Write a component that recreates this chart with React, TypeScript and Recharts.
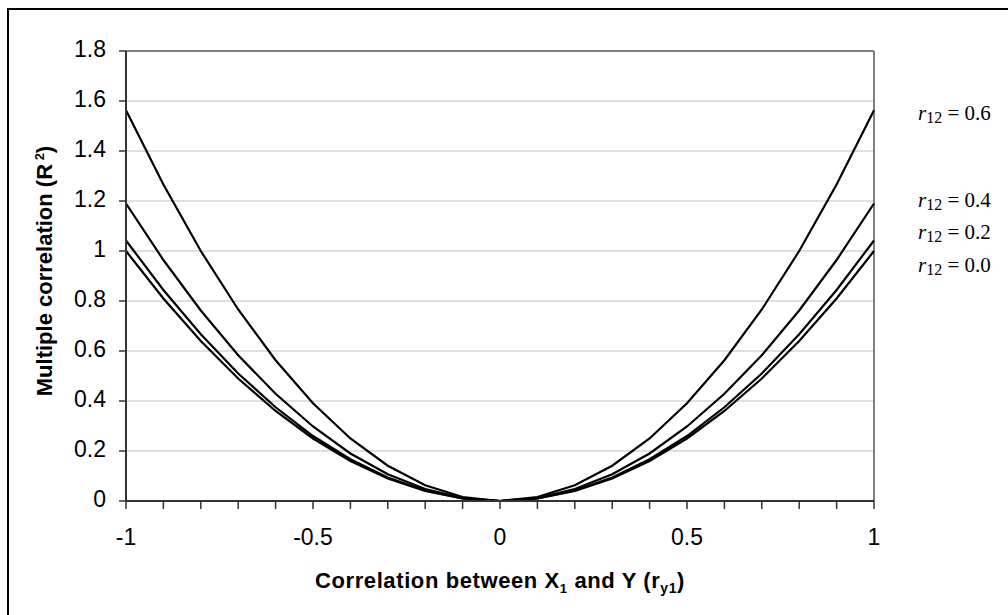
import React from 'react';
import { LineChart, Line, XAxis, YAxis, CartesianGrid, ReferenceLine, Label } from 'recharts';

const X_VALUES = [-1, -0.9, -0.8, -0.7, -0.6, -0.5, -0.4, -0.3, -0.2, -0.1, 0, 0.1, 0.2, 0.3, 0.4, 0.5, 0.6, 0.7, 0.8, 0.9, 1];
const R12_00 = [1, 0.81, 0.64, 0.49, 0.36, 0.25, 0.16, 0.09, 0.04, 0.01, 0, 0.01, 0.04, 0.09, 0.16, 0.25, 0.36, 0.49, 0.64, 0.81, 1];
const R12_02 = [1.042, 0.844, 0.667, 0.51, 0.375, 0.26, 0.167, 0.094, 0.042, 0.01, 0, 0.01, 0.042, 0.094, 0.167, 0.26, 0.375, 0.51, 0.667, 0.844, 1.042];
const R12_04 = [1.19, 0.964, 0.762, 0.583, 0.429, 0.298, 0.19, 0.107, 0.048, 0.012, 0, 0.012, 0.048, 0.107, 0.19, 0.298, 0.429, 0.583, 0.762, 0.964, 1.19];
const R12_06 = [1.563, 1.266, 1.0, 0.766, 0.563, 0.391, 0.25, 0.141, 0.063, 0.016, 0, 0.016, 0.063, 0.141, 0.25, 0.391, 0.563, 0.766, 1.0, 1.266, 1.563];
const X_TICK_LABELS = [-1, -0.5, 0, 0.5, 1];
const Y_TICKS = [0, 0.2, 0.4, 0.6, 0.8, 1, 1.2, 1.4, 1.6, 1.8];
const SERIES_LABELS = ['0.6', '0.4', '0.2', '0.0'];
const SERIES_KEYS = ['r06', 'r04', 'r02', 'r00'];

const data = X_VALUES.map((x, i) => ({
  x,
  r00: R12_00[i],
  r02: R12_02[i],
  r04: R12_04[i],
  r06: R12_06[i],
}));

const SANS = "Arial, 'Liberation Sans', sans-serif";
const SERIF = "'Times New Roman', 'Liberation Serif', serif";

const XTick = (props: any) => {
  const { x, y, payload } = props;
  const v = payload.value;
  const show = X_TICK_LABELS.some((t) => Math.abs(t - v) < 1e-9);
  if (!show) return <g />;
  return (
    <text x={x} y={y + 34} textAnchor="middle" fontFamily={SANS} fontSize={23} fill="#000">
      {String(v)}
    </text>
  );
};

const YTick = (props: any) => {
  const { x, y, payload } = props;
  return (
    <text x={x} y={y + 6} textAnchor="end" fontFamily={SANS} fontSize={23} fill="#000">
      {String(payload.value)}
    </text>
  );
};

const XTitle = () => (
  <text x={500} y={588} textAnchor="middle" fontFamily={SANS} fontSize={22} fontWeight="bold" letterSpacing={0.6} fill="#000">
    Correlation between X
    <tspan fontSize={13} dy={5}>1</tspan>
    <tspan dy={-5}> and Y (r</tspan>
    <tspan fontSize={14} dy={5}>y1</tspan>
    <tspan dy={-5}>)</tspan>
  </text>
);

const YTitle = () => (
  <text transform="translate(52,271) rotate(-90)" textAnchor="middle" fontFamily={SANS} fontSize={22} fontWeight="bold" fill="#000">
    Multiple correlation (R
    <tspan fontSize={13} dy={-8}> 2</tspan>
    <tspan dy={8}>)</tspan>
  </text>
);

const LABEL_BASELINES = [120, 207, 239, 272];

export default function App() {
  return (
    <div style={{ position: 'absolute', left: 0, top: 0, width: 1008, height: 615, background: '#fff' }}>
      <div
        style={{
          position: 'absolute',
          left: 7,
          top: 8,
          width: 1001,
          height: 607,
          borderLeft: '2px solid #000',
          borderTop: '2px solid #000',
          boxSizing: 'border-box',
        }}
      />
      <div style={{ position: 'absolute', left: 0, top: 0 }}>
        <LineChart width={1008} height={615} data={data} margin={{ top: 51, right: 134, bottom: 84, left: 66 }}>
          <CartesianGrid vertical={false} stroke="#c0c0c0" strokeWidth={1} />
          <ReferenceLine y={1.8} stroke="#808080" strokeWidth={2} />
          <ReferenceLine x={1} stroke="#808080" strokeWidth={2} />
          <XAxis
            dataKey="x"
            type="number"
            domain={[-1, 1]}
            ticks={X_VALUES}
            interval={0}
            tick={<XTick />}
            tickSize={8}
            axisLine={{ stroke: '#333', strokeWidth: 2 }}
            tickLine={{ stroke: '#333', strokeWidth: 1.5 }}
            height={30}
          >
            <Label content={<XTitle />} />
          </XAxis>
          <YAxis
            type="number"
            domain={[0, 1.8]}
            ticks={Y_TICKS}
            interval={0}
            width={60}
            tickSize={7}
            tickMargin={13}
            tick={<YTick />}
            axisLine={{ stroke: '#333', strokeWidth: 2 }}
            tickLine={{ stroke: '#333', strokeWidth: 1.5 }}
          >
            <Label content={<YTitle />} />
          </YAxis>
          {SERIES_KEYS.map((k) => (
            <Line key={k} dataKey={k} type="linear" stroke="#000" strokeWidth={2.2} dot={false} isAnimationActive={false} />
          ))}
        </LineChart>
      </div>
      <svg width={1008} height={615} style={{ position: 'absolute', left: 0, top: 0, pointerEvents: 'none' }}>
        {SERIES_LABELS.map((lab, i) => (
          <text key={lab} x={918} y={LABEL_BASELINES[i]} fontFamily={SERIF} fontSize={21} fill="#000">
            <tspan fontStyle="italic">r</tspan>
            <tspan fontSize={16} dy={3}>12</tspan>
            <tspan dy={-3}> = {lab}</tspan>
          </text>
        ))}
      </svg>
    </div>
  );
}
